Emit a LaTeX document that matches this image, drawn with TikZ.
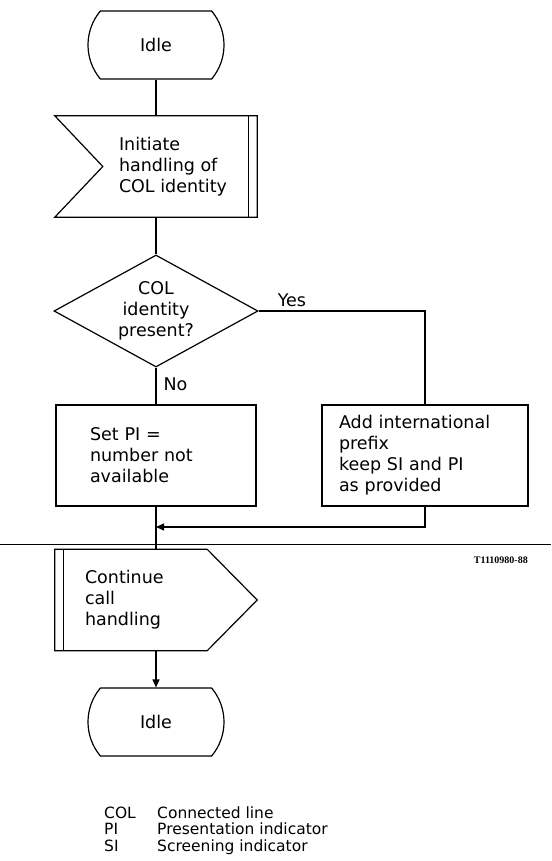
\documentclass[tikz,border=0pt]{standalone}
\usepackage{fontspec}
\setmainfont{DejaVu Sans}
\newfontfamily\tagfont{Liberation Serif}
\usetikzlibrary{shapes.geometric,shapes.misc,arrows.meta}

\tikzset{
  flowline/.style={line width=1.2pt},
  terminal/.style={draw, flowline, rounded rectangle, rounded rectangle arc length=80,
    minimum width=136, minimum height=68, inner sep=0},
  task/.style={draw, flowline, rectangle, minimum height=101, inner sep=0, align=left},
  decision/.style={draw, flowline, diamond, aspect=1.82, minimum width=204,
    minimum height=112, inner sep=0, align=center},
  signal/.style={rectangle, minimum width=202, minimum height=101, inner sep=0},
  sigtext/.style={anchor=west, align=left, inner sep=0},
  toarrow/.style={flowline, -{Triangle[length=8pt,width=7pt]}},
  legend/.style={anchor=base west, inner sep=0, font=\fontsize{15.5}{16.5}\selectfont},
}

\begin{document}
\begin{tikzpicture}[x=1pt, y=-1pt, every node/.style={font=\fontsize{17.5}{21}\selectfont}]
  \useasboundingbox (0,0) rectangle (551,861);

  % start
  \node[terminal] (idle1) at (156,45) {Idle};

  % input signal
  \node[signal] (init) at (156,166.5) {};
  \node[sigtext] (inittext) at ([xshift=64]init.west) {Initiate\\handling of\\COL identity};
  \draw[flowline] (init.north west) -- (init.north east) -- (init.south east)
    -- (init.south west) -- ([xshift=48]init.west) -- cycle;
  \draw[flowline] ([xshift=-9]init.north east) -- ([xshift=-9]init.south east);

  % decision and tasks
  \node[decision] (check) at (156,311) {COL\\identity\\present?};
  \node[task, minimum width=200, text width=132] (setpi) at (156,455.5) {Set PI =\\number not\\available};
  \node[task, minimum width=206, text width=172] (addpfx) at (425,455.5) {Add international\\prefix\\keep SI and PI\\as provided};
  \coordinate (merge) at (156,527);

  % output signal
  \node[signal] (cont) at (156,600) {};
  \draw[flowline] (cont.north west) -- ([xshift=-50]cont.north east) -- (cont.east)
    -- ([xshift=-50]cont.south east) -- (cont.south west) -- cycle;
  \draw[flowline] ([xshift=9]cont.north west) -- ([xshift=9]cont.south west);
  \node[sigtext] (conttext) at ([xshift=30]cont.west) {Continue\\call\\handling};

  \node[terminal] (idle2) at (156,722) {Idle};

  % connectors
  \draw[flowline] (idle1.south) -- (init.north);
  \draw[flowline] (init.south) -- (check.north);
  \draw[flowline] (check.south) -- node[pos=0.45, anchor=west, inner sep=0, xshift=7] (no) {No} (setpi.north);
  \draw[flowline] (check.east) -| node[pos=0.1, above, inner sep=4pt] (yes) {Yes} (addpfx.north);
  \draw[toarrow] (addpfx.south) |- (merge);
  \draw[flowline] (setpi.south) -- (cont.north);
  \draw[toarrow] (cont.south) -- (idle2.north);

  % page cut and drawing number
  \coordinate (cutL) at (0,544);
  \coordinate (cutR) at (551,544);
  \draw[line width=0.8pt] (cutL) -- (cutR);
  \node[anchor=east, inner sep=0, font=\tagfont\bfseries\fontsize{10}{12}\selectfont] (tag) at (528,560) {T1110980-88};

  % abbreviations
  \foreach \abbr/\desc [count=\i] in {COL/Connected line, PI/Presentation indicator, SI/Screening indicator} {
    \node[legend] (abbr\i) at (104,801.5+16.5*\i) {\abbr};
    \node[legend] (desc\i) at (157,801.5+16.5*\i) {\desc};
  }
\end{tikzpicture}
\end{document}
